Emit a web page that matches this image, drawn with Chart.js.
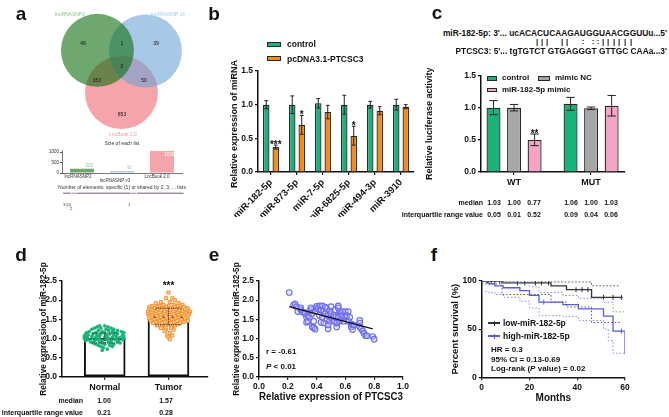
<!DOCTYPE html>
<html>
<head>
<meta charset="utf-8">
<script src="https://cdn.jsdelivr.net/npm/chart.js@4.4.1/dist/chart.umd.min.js"></script>
<style>
  body { margin: 0; width: 669px; height: 417px; position: relative; overflow: hidden; background: #fff;
         font-family: "Liberation Sans", Arial, sans-serif; }
  canvas { position: absolute; }
  .t { position: absolute; white-space: nowrap; font-weight: bold; color: #111; line-height: 1; }
  .sw { position: absolute; box-sizing: border-box; }
</style>
</head>
<body>
<script>
"use strict";
// ---- data ----
// a: venn of three lncRNA lists
const vennLists = ["lncRNASNP2", "lncRNASNP v3", "LncBook 2.0"];
const vennRegions = [49, 39, 853, 1, 153, 50, 0]; // A, B, C, AB, AC, BC, ABC
const listSizes = [203, 90, 1056];
const listTicks = [0, 500, 1000];
const sharedLabels = ["2", "1"];
const sharedCounts = [204, 941];

// b: miRNA expression
const bMirnas = ["miR-182-5p", "miR-873-5p", "miR-7-5p", "miR-6825-5p", "miR-494-3p", "miR-3910"];
const bControl = [1.0, 1.0, 1.02, 1.0, 1.0, 1.0];
const bControlErr = [0.06, 0.13, 0.07, 0.14, 0.05, 0.08];
const bPtcsc3 = [0.37, 0.7, 0.89, 0.54, 0.91, 0.97];
const bPtcsc3Err = [0.03, 0.14, 0.1, 0.14, 0.06, 0.03];
const bStars = ["***", "*", "", "*", "", ""];

// c: luciferase
const cGroups = ["WT", "MUT"];
const cControl = [1.0, 1.06];
const cControlErr = [0.11, 0.1];
const cMimicNC = [1.0, 0.99];
const cMimicNCErr = [0.05, 0.02];
const cMimic = [0.5, 1.03];
const cMimicErr = [0.09, 0.16];
const cMedian = ["1.03", "1.00", "0.77", "1.06", "1.00", "1.03"];
const cIqr = ["0.05", "0.01", "0.52", "0.09", "0.04", "0.06"];

// d: tissue expression
const dGroups = ["Normal", "Tumor"];
const dMedian = [1.0, 1.57];
const dQuartiles = [[0.88, 1.14], [1.36, 1.79]];
const dIqr = ["0.21", "0.28"];
const dNormalDots = [
  [-0.08, 1.33], [0.0, 1.33], [-0.12, 1.3], [0.05, 1.3], [-0.06, 1.27], [0.1, 1.27], [-0.16, 1.27],
  [-0.2, 1.24], [0.02, 1.24], [0.14, 1.24], [-0.1, 1.21], [0.06, 1.21], [0.2, 1.21],
  [-0.24, 1.18], [-0.04, 1.18], [0.12, 1.18], [0.26, 1.18],
  [-0.28, 1.15], [-0.14, 1.15], [0.0, 1.15], [0.16, 1.15], [0.3, 1.15],
  [-0.3, 1.12], [-0.18, 1.12], [-0.06, 1.12], [0.08, 1.12], [0.2, 1.12],
  [-0.26, 1.09], [-0.12, 1.09], [0.02, 1.09], [0.14, 1.09], [0.28, 1.09],
  [-0.32, 1.06], [-0.2, 1.06], [-0.08, 1.06], [0.04, 1.06], [0.18, 1.06], [0.3, 1.06],
  [-0.28, 1.03], [-0.14, 1.03], [0.0, 1.03], [0.12, 1.03], [0.24, 1.03],
  [-0.32, 1.0], [-0.2, 1.0], [-0.08, 1.0], [0.06, 1.0], [0.18, 1.0], [0.3, 1.0],
  [-0.26, 0.97], [-0.12, 0.97], [0.02, 0.97], [0.16, 0.97], [0.28, 0.97],
  [-0.3, 0.94], [-0.16, 0.94], [-0.04, 0.94], [0.1, 0.94], [0.22, 0.94],
  [-0.22, 0.91], [-0.08, 0.91], [0.06, 0.91], [0.2, 0.91],
  [-0.18, 0.88], [-0.04, 0.88], [0.1, 0.88], [0.24, 0.88],
  [-0.14, 0.85], [0.0, 0.85], [0.14, 0.85], [-0.1, 0.82], [0.08, 0.82],
  [-0.06, 0.79], [0.12, 0.79], [-0.02, 0.76], [0.04, 0.72], [-0.04, 0.69]
];
const dTumorDots = [
  [0.0, 2.2], [-0.04, 2.05], [0.06, 2.05], [0.1, 2.0], [-0.12, 1.95], [0.02, 1.95],
  [-0.2, 1.92], [0.16, 1.92], [-0.08, 1.88], [0.08, 1.88], [0.22, 1.88],
  [-0.26, 1.85], [-0.14, 1.85], [0.0, 1.85], [0.14, 1.85],
  [-0.3, 1.82], [-0.18, 1.82], [-0.04, 1.82], [0.1, 1.82], [0.24, 1.82],
  [-0.22, 1.79], [-0.1, 1.79], [0.04, 1.79], [0.18, 1.79], [0.3, 1.79],
  [-0.3, 1.76], [-0.16, 1.76], [-0.02, 1.76], [0.12, 1.76], [0.26, 1.76],
  [-0.26, 1.73], [-0.12, 1.73], [0.02, 1.73], [0.16, 1.73], [0.3, 1.73],
  [-0.32, 1.7], [-0.2, 1.7], [-0.06, 1.7], [0.08, 1.7], [0.22, 1.7], [0.34, 1.7],
  [-0.28, 1.67], [-0.14, 1.67], [0.0, 1.67], [0.14, 1.67], [0.28, 1.67],
  [-0.32, 1.64], [-0.2, 1.64], [-0.06, 1.64], [0.08, 1.64], [0.2, 1.64], [0.32, 1.64],
  [-0.26, 1.61], [-0.12, 1.61], [0.02, 1.61], [0.16, 1.61], [0.3, 1.61],
  [-0.3, 1.58], [-0.18, 1.58], [-0.04, 1.58], [0.1, 1.58], [0.24, 1.58],
  [-0.26, 1.55], [-0.12, 1.55], [0.02, 1.55], [0.16, 1.55], [0.3, 1.55],
  [-0.3, 1.52], [-0.16, 1.52], [-0.02, 1.52], [0.12, 1.52], [0.26, 1.52],
  [-0.22, 1.49], [-0.08, 1.49], [0.06, 1.49], [0.2, 1.49],
  [-0.28, 1.46], [-0.14, 1.46], [0.0, 1.46], [0.14, 1.46], [0.3, 1.46],
  [-0.2, 1.43], [-0.06, 1.43], [0.08, 1.43], [0.24, 1.43],
  [-0.24, 1.4], [-0.1, 1.4], [0.04, 1.4], [0.18, 1.4],
  [-0.14, 1.37], [0.0, 1.37], [0.14, 1.37], [-0.18, 1.34], [-0.04, 1.34], [0.1, 1.34],
  [-0.1, 1.31], [0.06, 1.31], [-0.12, 1.27], [0.04, 1.27], [-0.04, 1.23], [0.08, 1.23],
  [-0.06, 1.19], [0.02, 1.14], [-0.02, 1.08], [0.06, 1.08], [0.0, 1.03], [0.02, 0.98]
];

// e: correlation
const ePtcsc3 = [0.21, 0.24, 0.25, 0.26, 0.27, 0.29, 0.29, 0.3, 0.31, 0.32, 0.33, 0.33, 0.34, 0.34, 0.35, 0.35,
  0.36, 0.36, 0.37, 0.37, 0.38, 0.38, 0.39, 0.39, 0.4, 0.4, 0.41, 0.42, 0.42, 0.43, 0.43, 0.44, 0.44, 0.45, 0.45,
  0.46, 0.46, 0.47, 0.47, 0.48, 0.48, 0.48, 0.49, 0.49, 0.5, 0.5, 0.5, 0.51, 0.52, 0.52, 0.53, 0.53, 0.54, 0.54,
  0.55, 0.55, 0.55, 0.56, 0.56, 0.57, 0.57, 0.58, 0.58, 0.59, 0.6, 0.6, 0.61, 0.62, 0.62, 0.63, 0.64, 0.64, 0.65,
  0.65, 0.66, 0.7, 0.7, 0.7, 0.71, 0.72, 0.73, 0.74, 0.75, 0.79, 0.8];
const eMir182 = [2.2, 1.87, 1.9, 1.83, 1.7, 1.75, 1.8, 1.7, 1.68, 1.65, 1.42, 1.55, 1.6, 1.45, 1.7, 1.55,
  1.75, 1.8, 1.3, 1.65, 1.28, 1.45, 1.24, 1.7, 1.8, 1.84, 1.77, 1.85, 1.6, 1.75, 1.42, 1.85, 1.55, 1.4, 1.72,
  1.82, 1.65, 1.5, 1.78, 1.25, 1.6, 1.35, 1.72, 1.45, 1.55, 1.83, 1.65, 1.5, 1.6, 1.45, 1.55, 1.75, 1.3, 1.4,
  1.85, 1.8, 1.55, 1.45, 1.7, 1.5, 1.65, 1.6, 1.7, 1.45, 1.7, 1.55, 1.6, 1.7, 1.45, 1.55, 1.38, 1.3, 1.35,
  1.23, 1.35, 1.47, 1.4, 1.3, 1.25, 1.2, 1.13, 1.07, 1.07, 1.05, 0.98];
const eFitX = [0.21, 0.79];
const eFitY = [1.83, 1.25];

// f: survival, [months, percent]
const fLow = [[0, 100], [8.5, 98], [29, 95], [35.5, 91], [46, 83], [59, 83]];
const fLowUpper = [[0, 100], [29, 99], [46, 95], [58, 95]];
const fLowLower = [[0, 97], [8.5, 86], [29, 78], [35.5, 73], [46, 57], [58, 57]];
const fLowCensor = [[2.5, 100], [4, 100], [5.5, 100], [7.5, 100], [15, 98], [18, 98], [22.5, 98], [25, 98],
  [28, 98], [39.5, 91], [42, 91], [44.5, 91], [51, 83], [55, 83], [58.5, 83]];
const fHigh = [[0, 100], [3, 97], [5.5, 95], [9, 93], [16, 90], [20, 85], [24, 78], [34, 75.5], [40.5, 71],
  [51, 63.5], [55, 48], [60, 24]];
const fHighUpper = [[0, 100], [9, 99], [16, 97], [20, 94], [24, 88], [34, 85], [40.5, 82], [51, 78], [55, 68], [60, 68]];
const fHighLower = [[0, 89], [3, 88], [5.5, 86], [9, 83], [16, 79], [20, 72], [24, 64], [34, 63], [40.5, 59],
  [51, 50], [53, 38], [55, 25], [60, 25]];
const fHighCensor = [[2, 100], [26, 78], [58.5, 48]];

// ---- style ----
const GREEN = "#19b37a", ORANGE = "#f78d0c", GREY = "#a6a6a6", PINK = "#f5a3c7", EDGE = "#262626";
const BLUE = "#5b5bea";
const FONT = '"Liberation Sans", Arial, sans-serif';

Chart.defaults.font.family = FONT;
Chart.defaults.font.size = 8.5;
Chart.defaults.font.weight = "bold";
Chart.defaults.color = "#111";
Chart.defaults.animation = false;
Chart.defaults.responsive = false;
Chart.defaults.events = [];
Chart.defaults.layout.autoPadding = false;
Chart.defaults.plugins.legend.display = false;
Chart.defaults.plugins.tooltip.enabled = false;

function canvasAt(left, top, w, h) {
  const c = document.createElement("canvas");
  c.width = w;
  c.height = h;
  c.style.left = left + "px";
  c.style.top = top + "px";
  document.body.appendChild(c);
  return c.getContext("2d");
}

function label(text, x, y, o = {}) {
  const d = document.createElement("div");
  d.className = "t";
  d.innerHTML = text;
  d.style.left = x + "px";
  d.style.top = y + "px";
  d.style.fontSize = (o.size || 8) + "px";
  if (o.weight) d.style.fontWeight = o.weight;
  if (o.color) d.style.color = o.color;
  const ax = o.align === "right" ? "-100%" : o.align === "left" ? "0" : "-50%";
  d.style.transform = "translate(" + ax + ",-50%)" + (o.rotate ? " rotate(" + o.rotate + "deg)" : "");
  document.body.appendChild(d);
}

function swatch(x, y, w, h, fill, border) {
  const d = document.createElement("div");
  d.className = "sw";
  d.style.left = x + "px";
  d.style.top = y - h / 2 + "px";
  d.style.width = w + "px";
  d.style.height = h + "px";
  d.style.background = fill;
  if (border) d.style.border = "1px solid " + border;
  document.body.appendChild(d);
}

function axis(o) {
  const a = {
    border: { color: "#111", width: 1.5 },
    grid: { drawOnChartArea: false, color: "#111", tickLength: 3, lineWidth: 1.2, offset: false },
    ticks: Object.assign({ color: "#111", padding: 2, font: { size: 8.5, weight: "bold" } }, o.ticks),
  };
  ["type", "min", "max", "offset", "afterFit", "afterBuildTicks", "stacked"].forEach((k) => {
    if (o[k] !== undefined) a[k] = o[k];
  });
  if (o.title) {
    a.title = {
      display: true, text: o.title, color: "#111",
      font: { size: o.titleSize || 9, weight: "bold" },
      padding: { top: o.titlePad || 4, bottom: o.titleBottom || 0 },
    };
  }
  return a;
}

// error bars, significance stars
const errorBars = {
  id: "errorBars",
  afterDatasetsDraw(chart) {
    const { ctx } = chart;
    const y = chart.scales.y;
    chart.data.datasets.forEach((ds, i) => {
      if (!ds.errors) return;
      chart.getDatasetMeta(i).data.forEach((el, j) => {
        const raw = ds.data[j];
        const v = typeof raw === "object" ? raw.y : raw;
        const e = ds.errors[j];
        const lo = Array.isArray(e) ? e[0] : v - e;
        const hi = Array.isArray(e) ? e[1] : v + e;
        const yTop = y.getPixelForValue(hi);
        const yBot = y.getPixelForValue(lo);
        const cap = ds.capWidth || el.width * 0.3;
        ctx.save();
        ctx.strokeStyle = ds.errorColor || "#222";
        ctx.lineWidth = 1;
        if (ds.errorDash) ctx.setLineDash(ds.errorDash);
        ctx.beginPath();
        ctx.moveTo(el.x, yTop);
        ctx.lineTo(el.x, yBot);
        ctx.moveTo(el.x - cap, yTop);
        ctx.lineTo(el.x + cap, yTop);
        ctx.moveTo(el.x - cap, yBot);
        ctx.lineTo(el.x + cap, yBot);
        ctx.stroke();
        if (ds.stars && ds.stars[j]) {
          const sy = ds.starAt ? y.getPixelForValue(ds.starAt[j]) : yTop;
          ctx.fillStyle = "#111";
          ctx.font = "bold 10px " + FONT;
          ctx.textAlign = "center";
          ctx.textBaseline = "alphabetic";
          ctx.fillText(ds.stars[j], el.x, sy + 2.5);
        }
        ctx.restore();
      });
    });
  },
};

// tiny value labels for the venn bar charts
const barValues = {
  id: "barValues",
  afterDatasetsDraw(chart) {
    const { ctx } = chart;
    chart.data.datasets.forEach((ds, i) => {
      if (!ds.valueColors) return;
      chart.getDatasetMeta(i).data.forEach((el, j) => {
        const v = ds.data[j];
        ctx.save();
        ctx.font = "4.5px " + FONT;
        ctx.fillStyle = ds.valueColors[j];
        ctx.textAlign = "center";
        ctx.textBaseline = "middle";
        if (chart.options.indexAxis === "y") {
          ctx.fillText(String(v), (el.x + el.base) / 2, el.y);
        } else if (ds.valueInside && ds.valueInside[j]) {
          ctx.fillText(String(v), el.x + el.width * 0.3, el.y + 4);
        } else {
          ctx.fillText(String(v), el.x + el.width * 0.3, el.y - 3);
        }
        ctx.restore();
      });
    });
  },
};

const toXY = (pairs) => pairs.map((p) => ({ x: p[0], y: p[1] }));

// ---- panel a: venn ----
const vennColors = ["rgba(13,110,13,0.6)", "rgba(110,163,217,0.6)", "rgba(237,103,113,0.6)"];
const vennCentres = [[-0.62, 0.54], [0.7, 0.52], [0.04, -0.62]];
new Chart(canvasAt(40, 0, 160, 140), {
  type: "bubble",
  data: {
    datasets: vennLists.map((name, i) => ({
      label: name,
      data: [{ x: vennCentres[i][0], y: vennCentres[i][1], r: 36.5 }],
      backgroundColor: vennColors[i],
      borderWidth: 0,
      clip: false,
    })),
  },
  options: {
    layout: { padding: 0, autoPadding: false },
    scales: {
      x: { type: "linear", min: -2.2, max: 2.2, display: false },
      y: { type: "linear", min: -1.925, max: 1.925, display: false },
    },
  },
});
label(vennLists[0], 70, 14, { size: 5, weight: "normal", color: "#8cc48c" });
label(vennLists[1], 168, 14, { size: 5, weight: "normal", color: "#a5c6e8" });
label(vennLists[2], 123, 134, { size: 5, weight: "normal", color: "#f29aa3" });
const vennSpots = [[83, 43], [156, 43], [122, 114], [122, 43], [97, 80], [144, 80], [122, 66]];
vennRegions.forEach((n, i) => label(String(n), vennSpots[i][0], vennSpots[i][1], { size: 5, weight: "normal" }));

label("Size of each list", 122, 143, { size: 5, weight: "normal", color: "#333" });
new Chart(canvasAt(40, 140, 160, 40), {
  type: "bar",
  data: {
    labels: vennLists,
    datasets: [{
      data: listSizes,
      backgroundColor: vennColors,
      valueColors: ["#8cc48c", "#a5c6e8", "#fff"],
      valueInside: [false, false, true],
      categoryPercentage: 1,
      barPercentage: 0.6,
      minBarLength: 1.5,
    }],
  },
  options: {
    layout: { padding: { top: 10, right: 18, left: 0, bottom: 0 } },
    scales: {
      x: {
        border: { color: "#555", width: 0.8 },
        grid: { display: false },
        ticks: { display: false },
        afterFit: (s) => { s.height = 7; },
      },
      y: {
        min: 0, max: 1100,
        border: { color: "#555", width: 0.8 },
        grid: { drawOnChartArea: false, color: "#555", tickLength: 2 },
        afterBuildTicks: (s) => { s.ticks = listTicks.map((v) => ({ value: v })); },
        ticks: { padding: 1, color: "#333", font: { size: 4.5, weight: "normal" }, callback: (v) => String(v) },
        afterFit: (s) => { s.width = 22; },
      },
    },
  },
  plugins: [barValues],
});
label(vennLists[0], 78, 177, { size: 4.5, weight: "normal", color: "#333" });
label(vennLists[1], 115, 181, { size: 4.5, weight: "normal", color: "#333" });
label(vennLists[2], 157, 177, { size: 4.5, weight: "normal", color: "#333" });
label("Number of elements: specific (1) or shared by 2, 3, ... lists", 122, 187, { size: 5, weight: "normal", color: "#333" });
new Chart(canvasAt(40, 189, 160, 13), {
  type: "bar",
  data: {
    labels: [""],
    datasets: sharedCounts.map((n, i) => ({
      label: sharedLabels[i],
      data: [n],
      backgroundColor: i === 0 ? "#cfb0d3" : "#b88fc0",
      valueColors: ["#fff"],
      categoryPercentage: 1,
      barPercentage: 0.7,
    })),
  },
  options: {
    indexAxis: "y",
    layout: { padding: { top: 3, right: 17, left: 23, bottom: 1 } },
    scales: {
      x: { stacked: true, min: 0, max: 1145, border: { color: "#777", width: 0.8 }, grid: { display: false }, ticks: { display: false } },
      y: { stacked: true, display: false },
    },
  },
  plugins: [barValues],
});
label("3 (0)", 67, 205, { size: 4, weight: "normal", color: "#333" });
label(sharedLabels[0], 71, 209, { size: 4, weight: "normal", color: "#333" });
label(sharedLabels[1], 129, 205, { size: 4, weight: "normal", color: "#333" });

// ---- panel b ----
new Chart(canvasAt(222, 60, 200, 157), {
  type: "bar",
  data: {
    labels: bMirnas,
    datasets: [
      { data: bControl, errors: bControlErr, backgroundColor: GREEN, borderColor: EDGE, borderWidth: 1.3,
        categoryPercentage: 0.73, barPercentage: 0.68 },
      { data: bPtcsc3, errors: bPtcsc3Err, stars: bStars, backgroundColor: ORANGE, borderColor: EDGE, borderWidth: 1.3,
        categoryPercentage: 0.73, barPercentage: 0.68 },
    ],
  },
  options: {
    layout: { padding: { top: 11, right: 8, left: 0, bottom: 0 } },
    scales: {
      x: axis({ ticks: { minRotation: 45, maxRotation: 45, autoSkip: false, font: { size: 9.5, weight: "bold" } },
        afterFit: (s) => { s.height = 45; } }),
      y: axis({ min: 0, max: 1.5, ticks: { stepSize: 0.5, callback: (v) => v.toFixed(1) },
        title: "Relative expression of miRNAs", titlePad: 7.5, afterFit: (s) => { s.width = 36; } }),
    },
  },
  plugins: [errorBars],
});
swatch(267, 44, 14, 5, GREEN, EDGE);
label("control", 287, 44, { align: "left", size: 8.5 });
swatch(267, 58.5, 14, 5, ORANGE, EDGE);
label("pcDNA3.1-PTCSC3", 287, 58.5, { align: "left", size: 8.5 });

// ---- panel c ----
label("miR-182-5p: 3'... ucACACUCAAGAUGGUAACGGUUu...5'", 667, 33, { align: "right", size: 8.4 });
label("PTCSC3: 5'... tgTGTCT GTGAGGGT GTTGC CAAa...3'", 667, 51, { align: "right", size: 8.4 });
const pairMarks = [["|", 537], ["|", 542], ["|", 547], ["|", 562], ["|", 567], [":", 583], [":", 593], [":", 598],
  ["|", 603], ["|", 608], ["|", 614], ["|", 619], ["|", 625], ["|", 631]];
pairMarks.forEach((m) => label(m[0], m[1], 42, { size: 8 }));

new Chart(canvasAt(420, 68, 210, 120), {
  type: "bar",
  data: {
    datasets: [
      { data: cControl.map((v, i) => ({ x: i + 1, y: v })), errors: cControlErr, backgroundColor: GREEN },
      { data: cMimicNC.map((v, i) => ({ x: i + 1, y: v })), errors: cMimicNCErr, backgroundColor: GREY },
      { data: cMimic.map((v, i) => ({ x: i + 1, y: v })), errors: cMimicErr, stars: ["**", ""], backgroundColor: PINK },
    ].map((d) => Object.assign(d, { borderColor: EDGE, borderWidth: 1.3, categoryPercentage: 0.8, barPercentage: 0.68 })),
  },
  options: {
    layout: { padding: { top: 7.5, right: 5, left: 0, bottom: 0 } },
    scales: {
      x: axis({ type: "linear", min: 0.571, max: 2.44, offset: false,
        afterBuildTicks: (s) => { s.ticks = [{ value: 1 }, { value: 2 }]; },
        ticks: { callback: (v) => cGroups[v - 1], font: { size: 9, weight: "bold" } },
        afterFit: (s) => { s.height = 16; } }),
      y: axis({ min: 0, max: 1.5, ticks: { stepSize: 0.5, callback: (v) => v.toFixed(1) },
        title: "Relative luciferase activity", titlePad: 4.6, afterFit: (s) => { s.width = 61; } }),
    },
  },
  plugins: [errorBars],
});
swatch(487, 78.3, 10, 4.5, GREEN, EDGE);
label("control", 502, 78.3, { align: "left", size: 8 });
swatch(538, 78.3, 12, 4.5, GREY, EDGE);
label("mimic NC", 555, 78.3, { align: "left", size: 8 });
swatch(487, 90, 10, 4.5, PINK, EDGE);
label("miR-182-5p mimic", 502, 90, { align: "left", size: 8 });
const cCols = [494, 514, 534, 571, 591, 611];
label("median", 483, 202, { align: "right", size: 7 });
label("interquartile range value", 483, 213.5, { align: "right", size: 7 });
cCols.forEach((x, i) => {
  label(cMedian[i], x, 202, { size: 7 });
  label(cIqr[i], x, 213.5, { size: 7 });
});

// ---- panel d ----
new Chart(canvasAt(30, 270, 185, 125), {
  type: "bar",
  data: {
    datasets: [
      { type: "bar", order: 3, data: dMedian.map((v, i) => ({ x: i + 1, y: v })), errors: dQuartiles,
        stars: ["", "***"], starAt: [0, 2.36], capWidth: 13, errorColor: "#333", errorDash: [1.2, 1],
        backgroundColor: "#fff", borderColor: "#111", borderWidth: 2, barThickness: 41, borderSkipped: false },
      { type: "scatter", order: 2, data: dNormalDots.map((p) => ({ x: 1 + p[0], y: p[1] })),
        pointRadius: 1.6, backgroundColor: GREEN, borderColor: GREEN, borderWidth: 0.5 },
      { type: "scatter", order: 1, data: dTumorDots.map((p) => ({ x: 2 + p[0], y: p[1] })),
        pointStyle: "rect", pointRadius: 2.2, backgroundColor: "#fcd2a4", borderColor: "#f58a1f", borderWidth: 0.9 },
    ],
  },
  options: {
    layout: { padding: { top: 11, right: 7, left: 0, bottom: 0 } },
    scales: {
      x: axis({ type: "linear", min: 0.33, max: 2.62, offset: false,
        afterBuildTicks: (s) => { s.ticks = [{ value: 1 }, { value: 2 }]; },
        ticks: { callback: (v) => dGroups[v - 1], font: { size: 9, weight: "bold" } },
        afterFit: (s) => { s.height = 18.3; } }),
      y: axis({ min: 0, max: 2.5, ticks: { stepSize: 0.5, callback: (v) => v.toFixed(1) },
        afterFit: (s) => { s.width = 32; } }),
    },
  },
  plugins: [errorBars],
});
label("Relative expression of miR-182-5p", 44, 329, { size: 8.2, rotate: -90 });
label("median", 83, 400, { align: "right", size: 7 });
label("interquartile range value", 83, 412, { align: "right", size: 7 });
[104, 166].forEach((x, i) => {
  label(dMedian[i].toFixed(2), x, 400, { size: 7 });
  label(dIqr[i], x, 412, { size: 7 });
});

// ---- panel e ----
new Chart(canvasAt(225, 270, 190, 134), {
  type: "scatter",
  data: {
    datasets: [
      { data: eFitX.map((x, i) => ({ x, y: eFitY[i] })), showLine: true, pointRadius: 0, borderColor: "#111", borderWidth: 1.2 },
      { data: ePtcsc3.map((x, i) => ({ x, y: eMir182[i] })), pointRadius: 2.8, borderWidth: 1.1,
        borderColor: "#6b6bf0", backgroundColor: "rgba(200,200,252,0.3)" },
    ],
  },
  options: {
    layout: { padding: { top: 11, right: 12, left: 0, bottom: 0 } },
    scales: {
      x: axis({ type: "linear", min: 0, max: 1, ticks: { stepSize: 0.2, callback: (v) => v.toFixed(1) },
        title: "Relative expression of PTCSC3", titleSize: 10, titlePad: 0, titleBottom: 1,
        afterFit: (s) => { s.height = 27.3; } }),
      y: axis({ min: 0, max: 2.5, ticks: { stepSize: 0.5, callback: (v) => v.toFixed(1) },
        afterFit: (s) => { s.width = 34; } }),
    },
  },
});
label("Relative expression of miR-182-5p", 237, 329, { size: 8.2, rotate: -90 });
label("r = -0.61", 266, 351.7, { align: "left", size: 8 });
label("<i>P</i> &lt; 0.01", 266, 366.7, { align: "left", size: 8 });

// ---- panel f ----
const dotted = { borderDash: [1.5, 2], borderWidth: 1, pointRadius: 0, stepped: true };
const censor = { showLine: false, pointStyle: "line", rotation: 90, pointRadius: 2.5, borderWidth: 1 };
new Chart(canvasAt(440, 270, 195, 135), {
  type: "line",
  data: {
    datasets: [
      Object.assign({ data: toXY(fLowUpper), borderColor: "#555" }, dotted),
      Object.assign({ data: toXY(fLowLower), borderColor: "#555" }, dotted),
      Object.assign({ data: toXY(fHighUpper), borderColor: "#8a8af2" }, dotted),
      Object.assign({ data: toXY(fHighLower), borderColor: "#8a8af2" }, dotted),
      { data: toXY(fLow), stepped: true, borderColor: "#333", borderWidth: 1.3, pointRadius: 0 },
      { data: toXY(fHigh), stepped: true, borderColor: BLUE, borderWidth: 1.3, pointRadius: 0 },
      Object.assign({ data: toXY(fLowCensor), borderColor: "#333" }, censor),
      Object.assign({ data: toXY(fHighCensor), borderColor: BLUE }, censor),
    ],
  },
  options: {
    layout: { padding: { top: 11, right: 10, left: 0, bottom: 0 } },
    scales: {
      x: axis({ type: "linear", min: 0, max: 60, ticks: { stepSize: 20 },
        title: "Months", titleSize: 10, titlePad: 0, titleBottom: 1, afterFit: (s) => { s.height = 27.7; } }),
      y: axis({ min: 0, max: 100, ticks: { stepSize: 50 },
        title: "Percent survival (%)", titleSize: 9.5, titlePad: 9.6, afterFit: (s) => { s.width = 41.7; } }),
    },
  },
});
swatch(488, 323, 12, 1.3, "#333");
swatch(493.5, 323, 1, 5, "#333");
label("low-miR-182-5p", 503, 323, { align: "left", size: 8.5 });
swatch(488, 336, 12, 1.3, BLUE);
swatch(493.5, 336, 1, 5, BLUE);
label("high-miR-182-5p", 503, 336, { align: "left", size: 8.5 });
label("HR = 0.3", 491, 350, { align: "left", size: 8 });
label("95% CI = 0.13-0.69", 491, 359.5, { align: "left", size: 8 });
label("Log-rank (<i>P</i> value) = 0.02", 491, 369, { align: "left", size: 8 });

// ---- panel letters ----
label("a", 21, 13, { size: 19 });
label("b", 214, 13, { size: 19 });
label("c", 437, 12, { size: 19 });
label("d", 21, 254, { size: 19 });
label("e", 214, 254, { size: 19 });
label("f", 434, 254, { size: 19 });
</script>
</body>
</html>
